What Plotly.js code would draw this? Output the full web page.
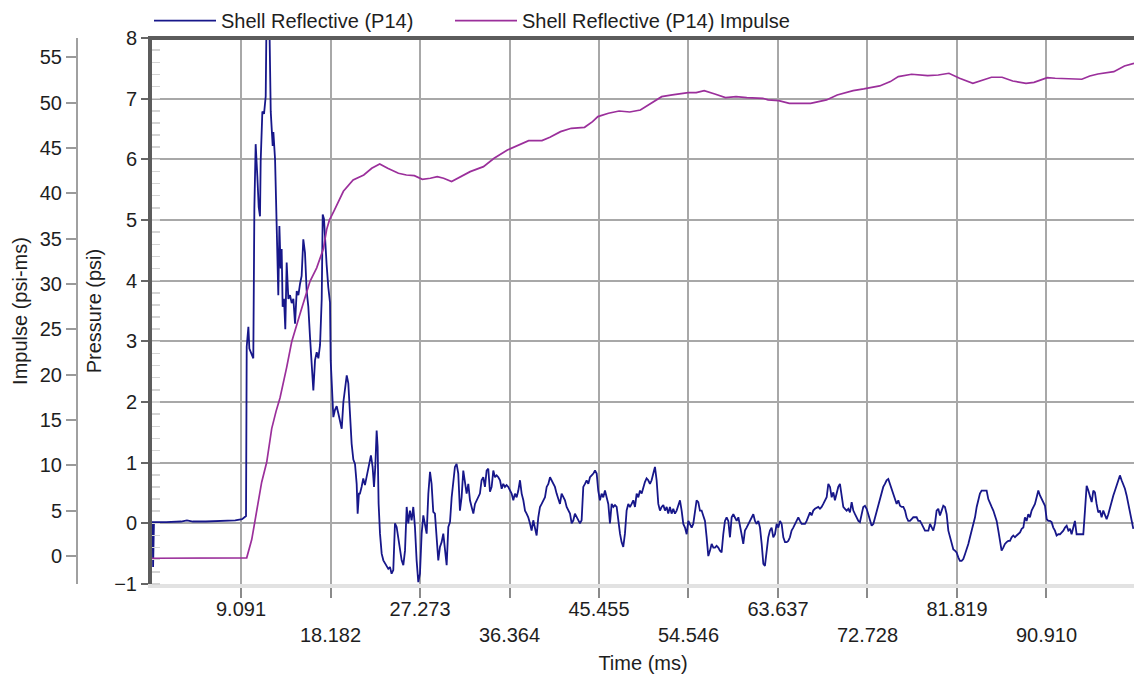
<!DOCTYPE html>
<html><head><meta charset="utf-8">
<script src="https://cdn.plot.ly/plotly-3.0.1.min.js"></script>
<style>html,body{margin:0;padding:0;background:#fff}#chart{width:1134px;height:677px}</style>
</head><body><div id="chart"></div>
<script>
// ---- Pressure (psi) vs time (ms) ----
const timeMs = [
 0, 0.12, 0.16, 0.2, 0.25, 1.5, 3.0, 3.6, 4.2, 5.5, 6.5, 7.5, 8.5, 9.2, 9.5, 9.6,
 9.67, 9.84, 9.94, 10.18, 10.34, 10.45, 10.58, 10.75, 10.89, 11.02,
 11.09, 11.26, 11.43, 11.6, 11.7, 11.87, 11.97, 12.11, 12.21, 12.31,
 12.38, 12.55, 12.65, 12.78, 12.88, 12.99, 13.12, 13.22, 13.32, 13.46,
 13.59, 13.73, 13.9, 14.07, 14.24, 14.41, 14.58, 14.75, 14.92, 15.09,
 15.25, 15.42, 15.59, 15.76, 15.93, 16.1, 16.27, 16.44, 16.61, 16.78,
 16.95, 17.12, 17.29, 17.39, 17.52, 17.66, 17.79, 17.96, 18.13, 18.2,
 18.3, 18.47, 18.64, 18.81, 18.98, 19.15, 19.32, 19.49, 19.66, 19.83,
 19.99, 20.16, 20.33, 20.5, 20.67, 20.84, 20.94,
 21.07, 21.17, 21.34, 21.51, 21.68, 21.85, 22.02, 22.19, 22.29, 22.46,
 22.6, 22.73, 22.87, 22.97, 23.07, 23.21, 23.38, 23.55, 23.71, 23.88,
 24.05, 24.22, 24.39, 24.56, 24.73, 24.9, 25.07, 25.24, 25.41, 25.58,
 25.75, 25.92, 26.08, 26.25, 26.42, 26.59, 26.76, 26.93, 27.1, 27.27,
 27.44, 27.61, 27.78, 27.95, 28.12, 28.29, 28.45, 28.62, 28.79, 28.96,
 29.13, 29.3, 29.47, 29.64, 29.81, 29.98, 30.15, 30.32, 30.49, 30.66,
 30.82, 30.99, 31.16, 31.33, 31.5, 31.67, 31.84, 32.01, 32.18, 32.35,
 32.52, 32.69, 32.86, 33.03, 33.2, 33.36, 33.53, 33.7, 33.87, 34.04,
 34.21, 34.38, 34.55, 34.72, 34.89, 35.06, 35.23, 35.4, 35.57, 35.73,
 35.9, 36.07, 36.24, 36.41, 36.58, 36.75, 36.92, 37.09, 37.26, 37.43,
 37.6, 37.77, 37.94, 38.1, 38.27, 38.44, 38.61, 38.78, 38.95, 39.12,
 39.29, 39.46, 39.63, 39.8, 39.97, 40.14, 40.31, 40.48, 40.64, 40.81,
 40.98, 41.15, 41.32, 41.49, 41.66, 41.83, 42.0, 42.17, 42.34, 42.51,
 42.68, 42.85, 43.01, 43.18, 43.35, 43.52, 43.69, 43.86, 44.03, 44.2,
 44.37, 44.54, 44.71, 44.88, 45.05, 45.22, 45.38, 45.55, 45.72, 45.89,
 46.06, 46.23, 46.4, 46.57, 46.74, 46.91, 47.08, 47.25, 47.42, 47.59,
 47.75, 47.92, 48.09, 48.26, 48.43, 48.6, 48.77, 48.94, 49.11, 49.28,
 49.45, 49.62, 49.79, 49.96, 50.12, 50.29, 50.46, 50.63, 50.8, 50.97,
 51.14, 51.31, 51.48, 51.65, 51.82, 51.99, 52.16, 52.33, 52.49, 52.66,
 52.83, 53.0, 53.17, 53.34, 53.51, 53.68,
 53.85, 54.02, 54.19, 54.36, 54.53, 54.7, 54.87, 55.03, 55.2, 55.37,
 55.54, 55.71, 55.88, 56.05, 56.22, 56.39, 56.56, 56.73, 56.9, 57.07,
 57.24, 57.4, 57.57, 57.74, 57.91, 58.08, 58.25, 58.42, 58.59, 58.76,
 58.93, 59.1, 59.27, 59.44, 59.61, 59.77, 59.94, 60.11, 60.28, 60.45,
 60.62, 60.79, 60.96, 61.13, 61.3, 61.47, 61.64, 61.81, 61.98, 62.15,
 62.31, 62.48, 62.65, 62.82, 62.99, 63.16, 63.33, 63.5, 63.67, 63.84,
 64.01, 64.18, 64.35, 64.52, 64.68, 64.85, 65.02, 65.19, 65.36, 65.53,
 65.7, 65.87, 66.04, 66.21, 66.38, 66.55, 66.72, 66.89, 67.05, 67.22,
 67.39, 67.56, 67.73, 67.9, 68.07, 68.24, 68.41, 68.58, 68.75, 68.92,
 69.09, 69.26, 69.42, 69.59, 69.76, 69.93, 70.1, 70.27, 70.44, 70.61,
 70.78, 70.95, 71.12, 71.29, 71.46, 71.63, 71.8, 71.96, 72.13, 72.3,
 72.47, 72.64, 72.81, 72.98, 73.15, 73.32, 73.49, 73.66, 73.83, 74.0,
 74.17, 74.33, 74.5, 74.67, 74.84, 75.01, 75.18, 75.35, 75.52, 75.69,
 75.86, 76.03, 76.2, 76.37, 76.54, 76.7, 76.87, 77.04, 77.21, 77.38,
 77.55, 77.72, 77.89, 78.06, 78.23, 78.4, 78.57, 78.74, 78.91, 79.08,
 79.24, 79.41, 79.58, 79.75, 79.92, 80.09, 80.26, 80.43, 80.6, 80.77,
 80.94, 81.11, 81.28, 81.45, 81.61, 81.78, 81.95, 82.12, 82.29, 82.46,
 82.63, 82.8, 82.97, 83.14, 83.31, 83.48, 83.65, 83.82, 83.98, 84.15,
 84.32, 84.49, 84.66, 84.83, 85.0, 85.17, 85.34, 85.51, 85.68, 85.85,
 86.02, 86.19, 86.35, 86.52, 86.69, 86.86, 87.03, 87.2, 87.37, 87.54,
 87.71, 87.88, 88.05, 88.22, 88.39, 88.56, 88.72, 88.89, 89.06, 89.23,
 89.4, 89.57, 89.74, 89.91, 90.08, 90.25, 90.42, 90.59, 90.76, 90.93,
 91.09, 91.26, 91.43, 91.6, 91.77, 91.94, 92.11, 92.28, 92.45, 92.62,
 92.79, 92.96, 93.13, 93.3, 93.46, 93.63, 93.8, 93.97, 94.31, 94.65,
 94.82, 94.99, 95.16, 95.33, 95.5, 95.67, 95.83, 96.0,
 96.17, 96.34, 96.51, 96.68, 96.85, 97.02, 97.19, 97.36, 97.53, 97.7,
 97.87, 98.04, 98.2, 98.37, 98.54, 98.71, 98.88, 99.05, 99.22, 99.39, 99.56, 99.73
];
const pressurePsi = [
 0.02, 0.02, -0.72, -0.05, 0.02, 0.02, 0.03, 0.05, 0.03, 0.03, 0.04, 0.05, 0.05, 0.07, 0.1, 0.12,
 2.91, 3.24, 2.88, 2.8, 2.72, 5.21, 6.25, 5.72, 5.21, 5.06,
 5.97, 6.79, 6.75, 7.04, 8.6, 8.6, 8.3, 6.79, 6.54, 6.22,
 6.45, 6.0, 5.34, 4.65, 3.76, 4.9, 4.2, 4.52, 3.57, 3.7,
 3.2, 4.3, 3.7, 3.76, 3.63, 3.7, 3.29, 3.83, 3.76, 3.95,
 4.08, 4.68, 4.46, 3.83, 3.57, 3.07, 2.69, 2.19, 2.69, 2.82,
 2.72, 2.94, 3.7, 5.09, 5.02, 4.58, 4.26, 3.89, 3.64, 2.69,
 2.31, 1.75, 1.87, 1.93, 1.81, 1.68, 1.56, 2.0, 2.25, 2.44,
 2.31, 1.81, 1.31, 1.05, 0.98, 0.65, 0.16,
 0.49, 0.49, 0.6, 0.74, 0.63, 0.76, 0.87, 1.04, 1.12, 0.93,
 0.6, 0.93, 1.53, 1.26, 0.32, -0.17, -0.5, -0.61, -0.66, -0.71,
 -0.75, -0.72, -0.83, -0.77, 0.0, -0.06, -0.23, -0.45, -0.61, -0.69,
 -0.45, 0.27, 0.0, 0.21, 0.05, 0.27, -0.06, -0.61, -0.97, -0.83,
 -0.17, 0.13, -0.06, -0.17, 0.49, 0.85, 0.65, 0.19, 0.16, -0.17,
 -0.61, -0.39, -0.31, -0.17, -0.5, -0.69, -0.06, 0.02, 0.43, 0.71,
 0.93, 0.98, 0.82, 0.21, 0.43, 0.87, 0.71, 0.49, 0.65, 0.38,
 0.27, 0.16, 0.32, 0.38, 0.43, 0.49, 0.71, 0.76, 0.6, 0.87,
 0.9, 0.52, 0.6, 0.87, 0.76, 0.79, 0.76, 0.71, 0.57, 0.65,
 0.6, 0.63, 0.6, 0.54, 0.49, 0.38, 0.49, 0.43, 0.54, 0.71,
 0.49, 0.38, 0.21, 0.16, 0.1, 0.0, -0.12, 0.05, -0.06, -0.2,
 0.1, 0.27, 0.32, 0.38, 0.43, 0.6, 0.65, 0.76, 0.71, 0.65,
 0.6, 0.49, 0.38, 0.32, 0.49, 0.43, 0.38, 0.27, 0.21, 0.16,
 0.0, 0.05, 0.16, 0.1, 0.05, 0.0, 0.05, 0.6, 0.65, 0.71,
 0.65, 0.76, 0.79, 0.82, 0.87, 0.82, 0.54, 0.38, 0.49, 0.43,
 0.54, 0.43, 0.32, 0.0, 0.32, 0.27, 0.3, 0.27, 0.0, -0.17,
 -0.31, -0.39, -0.17, 0.21, 0.32, 0.27, 0.32, 0.38, 0.27, 0.49,
 0.43, 0.54, 0.49, 0.6, 0.68, 0.74, 0.71, 0.65, 0.71, 0.82,
 0.93, 0.71, 0.32, 0.21, 0.27, 0.3, 0.21, 0.27, 0.16, 0.27,
 0.16, 0.24, 0.16, 0.21, 0.32, 0.38,
 0.21, -0.01, -0.07, -0.18, 0.04, -0.01, -0.07, -0.01, 0.21, 0.38,
 0.35, 0.21, 0.21, 0.1, 0.04, -0.23, -0.54, -0.45, -0.34, -0.4,
 -0.4, -0.37, -0.4, -0.45, -0.48, -0.18, 0.04, 0.1, 0.04, -0.23,
 0.1, 0.15, 0.1, 0.04, 0.1, -0.01, -0.18, -0.34, -0.12, -0.07,
 -0.01, 0.04, 0.1, 0.15, 0.04, -0.01, 0.04, -0.07, -0.34, -0.67,
 -0.7, -0.4, -0.23, -0.12, -0.07, -0.23, -0.18, -0.01, -0.07, 0.04,
 -0.01, -0.23, -0.31, -0.31, -0.29, -0.23, -0.12, -0.07, -0.01, 0.04,
 0.1, 0.04, -0.01, -0.01, -0.01, 0.04, 0.1, 0.18, 0.13, 0.21,
 0.24, 0.25, 0.27, 0.24, 0.27, 0.32, 0.38, 0.43, 0.65, 0.6,
 0.43, 0.51, 0.38, 0.49, 0.6, 0.65, 0.43, 0.27, 0.24, 0.21,
 0.24, 0.18, 0.35, 0.21, 0.15, 0.1, 0.04, 0.02, 0.15, 0.27,
 0.29, 0.24, 0.15, 0.04, -0.04, -0.01, 0.1, 0.21, 0.32, 0.43,
 0.51, 0.6, 0.65, 0.71, 0.73, 0.65, 0.57, 0.49, 0.38, 0.32,
 0.38, 0.29, 0.27, 0.27, 0.21, 0.1, 0.04, 0.04, 0.07, 0.1,
 0.1, 0.1, 0.04, 0.04, -0.01, -0.07, -0.12, -0.12, -0.12, -0.01,
 -0.07, -0.12, -0.01, 0.21, 0.24, 0.13, 0.21, 0.29, 0.27, 0.15,
 -0.12, -0.23, -0.34, -0.43, -0.45, -0.48, -0.56, -0.62, -0.62, -0.59,
 -0.51, -0.43, -0.34, -0.23, -0.12, -0.01, 0.1, 0.27, 0.38, 0.49,
 0.54, 0.54, 0.54, 0.54, 0.4, 0.32, 0.27, 0.21, 0.13, 0.04,
 -0.12, -0.29, -0.45, -0.4, -0.34, -0.31, -0.29, -0.29, -0.23, -0.2,
 -0.23, -0.2, -0.18, -0.15, -0.09, -0.07, 0.1, 0.04, 0.15, 0.1,
 0.21, 0.27, 0.32, 0.43, 0.54, 0.46, 0.4, 0.35, 0.29, 0.07,
 0.04, 0.04, 0.02, -0.07, -0.12, -0.2, -0.18, -0.18, -0.15, -0.12,
 -0.07, -0.04, -0.12, -0.09, -0.18, -0.07, 0.04, -0.18, -0.18, -0.18,
 0.21, 0.62, 0.54, 0.46, 0.35, 0.54, 0.51, 0.32,
 0.18, 0.21, 0.1, 0.21, 0.13, 0.07, 0.15, 0.27, 0.38, 0.46,
 0.54, 0.62, 0.71, 0.79, 0.71, 0.65, 0.57, 0.46, 0.32, 0.21, 0.1, -0.09
];

// ---- Impulse (psi-ms) vs time (ms) ----
const impulseTimeMs = [
 0, 4.0, 8.0, 9.67, 10.18, 10.68, 11.19, 11.7, 12.21, 12.65,
 13.05, 13.73, 14.24, 15.09, 16.1, 16.78, 17.46, 17.79, 18.06, 18.59,
 19.49, 20.48, 21.56, 22.37, 23.18, 23.99, 25.08, 25.89, 26.7, 27.51,
 28.32, 29.02, 29.67, 30.48, 31.29, 32.37, 33.72, 34.8, 36.15, 37.23,
 38.31, 39.66, 40.47, 41.55, 42.64, 43.99, 44.8, 45.34, 46.42, 47.5,
 48.58, 49.66, 50.74, 51.82, 52.9, 54.52, 55.33, 56.14, 57.22, 58.3,
 59.38, 60.47, 62.09, 62.63, 63.71, 64.79, 66.95, 68.57, 69.65, 71.27,
 72.35, 73.97, 75.05, 75.86, 77.21, 78.84, 79.92, 81.0, 82.08, 83.43,
 85.32, 86.4, 87.48, 88.83, 89.64, 90.99, 91.8, 94.5, 95.31, 96.13,
 97.75, 98.83, 99.8
];
const impulsePsiMs = [
 -0.25, -0.25, -0.22, -0.2, 1.81, 4.76, 8.14, 10.33, 14.05, 15.95,
 17.43, 20.8, 23.63, 26.71, 30.3, 31.78, 33.88, 36.0, 37.01, 38.17,
 40.22, 41.47, 42.02, 42.76, 43.24, 42.76, 42.21, 42.02, 41.95, 41.55,
 41.66, 41.84, 41.66, 41.29, 41.77, 42.39, 42.94, 43.86, 44.78, 45.33,
 45.81, 45.81, 46.18, 46.8, 47.17, 47.28, 47.91, 48.46, 48.83, 49.08,
 48.97, 49.19, 49.93, 50.66, 50.85, 51.1, 51.1, 51.33, 50.96, 50.55,
 50.66, 50.55, 50.48, 50.3, 50.22, 49.93, 49.93, 50.3, 50.85, 51.33,
 51.51, 51.84, 52.32, 52.87, 53.13, 52.98, 53.05, 53.24, 52.69, 52.13,
 52.8, 52.8, 52.39, 52.13, 52.24, 52.76, 52.69, 52.58, 52.94, 53.16,
 53.42, 54.05, 54.34
];

// ---- Axis ticks ----
const timeTickVals = [9.091, 18.182, 27.273, 36.364, 45.455, 54.546, 63.637, 72.728, 81.819, 90.910];
const timeTickText = ['9.091', ' <br>18.182', '27.273', ' <br>36.364', '45.455', ' <br>54.546', '63.637', ' <br>72.728', '81.819', ' <br>90.910'];
const pressureTicks = [-1, 0, 1, 2, 3, 4, 5, 6, 7, 8];
const impulseTicks = [0, 5, 10, 15, 20, 25, 30, 35, 40, 45, 50, 55];

const seriesNames = ['Shell Reflective (P14)', 'Shell Reflective (P14) Impulse'];

const W = 1134, H = 677;
const plotLeft = 152, impAxisX = 77;
const txt = '#1e1e1e';
const gridC = '#a8a8a8';

const traces = [
  {x: timeMs, y: pressurePsi, type: 'scatter', mode: 'lines', name: seriesNames[0],
   line: {color: '#17178a', width: 1.8}, xaxis: 'x', yaxis: 'y', legend: 'legend'},
  {x: impulseTimeMs, y: impulsePsiMs, type: 'scatter', mode: 'lines', name: seriesNames[1],
   line: {color: '#9b2f9b', width: 1.7}, xaxis: 'x', yaxis: 'y2', legend: 'legend2'}
];

const legendBase = {orientation: 'h', xanchor: 'left', y: 0.996, yanchor: 'bottom',
  font: {size: 20, color: txt}, bgcolor: 'rgba(0,0,0,0)', itemwidth: 62};

const layout = {
  width: W, height: H,
  margin: {l: 0, r: 0, t: 38, b: 93},
  paper_bgcolor: '#ffffff', plot_bgcolor: '#ffffff',
  font: {family: '"Liberation Sans", Arial, sans-serif', size: 20, color: txt},
  showlegend: true,
  legend: Object.assign({}, legendBase, {x: 149 / W}),
  legend2: Object.assign({}, legendBase, {x: 450 / W}),
  xaxis: {
    domain: [plotLeft / W, 1], range: [0.05, 99.8],
    tickmode: 'array', tickvals: timeTickVals, ticktext: timeTickText,
    ticks: 'outside', ticklen: 10, tickwidth: 2, tickcolor: '#8a8a8a',
    ticklabelstandoff: -6,
    showgrid: true, gridcolor: gridC, gridwidth: 2,
    showline: true, linecolor: '#e2e2e2', linewidth: 4, zeroline: false,
    tickfont: {size: 20, color: txt},
    title: {text: 'Time (ms)', font: {size: 20, color: txt}, standoff: 12}
  },
  yaxis: {
    range: [-1, 8], tickmode: 'array', tickvals: pressureTicks,
    ticks: 'outside', ticklen: 7, tickwidth: 2, tickcolor: '#666',
    showgrid: true, gridcolor: gridC, gridwidth: 2,
    showline: true, linecolor: '#5c5c5c', linewidth: 4, zeroline: false,
    minor: {dtick: 0.2, ticks: 'inside', ticklen: 8, tickwidth: 1.5, tickcolor: '#d4d4d4', showgrid: false},
    tickfont: {size: 20, color: txt},
    title: {text: 'Pressure (psi)', font: {size: 20, color: txt}, standoff: 8}
  },
  yaxis2: {
    overlaying: 'y', anchor: 'free', position: impAxisX / W, side: 'left',
    range: [-3.09, 57.13], tickmode: 'array', tickvals: impulseTicks,
    ticks: 'outside', ticklen: 10, tickwidth: 2, tickcolor: '#9a9a9a',
    showline: true, linecolor: '#a0a0a0', linewidth: 2, showgrid: false, zeroline: false,
    tickfont: {size: 20, color: txt},
    title: {text: 'Impulse (psi-ms)', font: {size: 20, color: txt}, standoff: 6}
  },
  yaxis3: {
    overlaying: 'y', anchor: 'free', position: impAxisX / W, side: 'left',
    range: [-3.09, 57.13], tickmode: 'array', tickvals: impulseTicks,
    ticks: 'inside', ticklen: 10, tickwidth: 2, tickcolor: '#9a9a9a',
    showticklabels: false, showline: false, showgrid: false, zeroline: false
  },
  shapes: [
    {type: 'line', xref: 'paper', yref: 'paper', x0: (plotLeft - 4) / W, x1: 1, y0: 1, y1: 1,
     line: {color: '#5c5c5c', width: 4}}
  ]
};

Plotly.newPlot('chart', traces, layout, {displayModeBar: false, staticPlot: true});
</script>
</body></html>
